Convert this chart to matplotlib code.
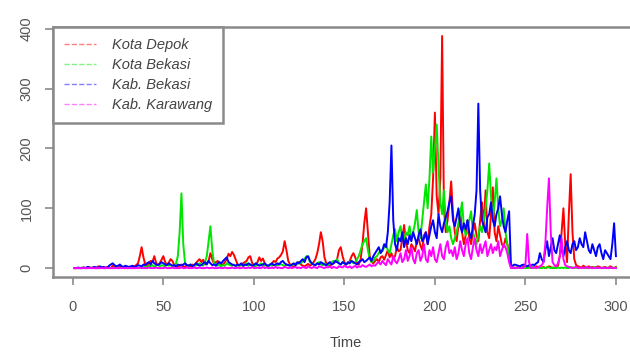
import matplotlib.pyplot as plt
import numpy as np

plt.rcParams['font.family'] = ['Liberation Sans', 'DejaVu Sans']

time = np.arange(1, 301)

kota_depok = [
    0, 0, 0, 0, 0, 1, 0, 0, 2, 0, 1, 0, 0, 3, 0, 1, 0, 0, 2, 1, 0, 4, 2, 1, 0, 3, 1, 0, 2, 0,
    1, 0, 2, 3, 5, 8, 20, 35, 18, 6, 4, 8, 12, 10, 20, 9, 5, 8, 14, 20, 10, 6, 9, 15, 12, 5, 3, 2, 4, 6,
    3, 2, 5, 4, 3, 6, 4, 8, 12, 15, 10, 14, 6, 8, 12, 25, 15, 7, 10, 12, 8, 5, 6, 10, 15, 24, 20, 27, 22, 14,
    6, 4, 5, 8, 10, 12, 18, 20, 9, 5, 4, 10, 18, 12, 16, 8, 4, 3, 6, 8, 12, 10, 16, 18, 22, 28, 45, 30, 12, 6,
    4, 3, 5, 8, 10, 6, 4, 3, 5, 7, 4, 6, 10, 15, 25, 40, 60, 45, 18, 8, 5, 4, 6, 8, 10, 15, 30, 35, 20, 10,
    6, 8, 12, 20, 25, 18, 8, 6, 15, 40, 75, 100, 60, 20, 10, 8, 12, 15, 10, 18, 20, 14, 22, 30, 18, 25, 15, 20, 35, 28,
    30, 50, 72, 45, 30, 25, 40, 35, 28, 45, 50, 38, 30, 55, 60, 40, 70, 90, 150, 260, 120, 90, 150, 388, 100, 60, 80, 110, 145, 90,
    60, 45, 70, 95, 60, 40, 55, 80, 50, 40, 60, 75, 55, 45, 80, 110, 70, 130, 60, 50, 90, 135, 60, 45, 70, 55, 40, 35, 50, 40,
    30, 2, 0, 1, 0, 2, 1, 0, 3, 1, 0, 2, 1, 0, 1, 3, 2, 0, 1, 2, 0, 1, 3, 2, 0, 1, 2, 4, 20, 60,
    100, 40, 10, 90, 157, 60, 15, 5, 3, 2, 1, 4, 2, 0, 3, 1, 2, 0, 1, 3, 2, 0, 1, 2, 0, 1, 3, 1, 0, 2,
]

kota_bekasi = [
    0, 0, 0, 0, 1, 0, 0, 0, 1, 0, 0, 1, 0, 0, 0, 1, 0, 0, 0, 1, 0, 0, 1, 0, 0, 0, 1, 0, 0, 0,
    0, 1, 0, 0, 2, 1, 0, 2, 3, 1, 2, 4, 3, 5, 2, 4, 6, 3, 5, 4, 3, 6, 4, 5, 3, 4, 8, 20, 60, 125,
    40, 8, 5, 4, 6, 3, 5, 4, 6, 8, 5, 4, 10, 20, 45, 70, 30, 8, 5, 4, 6, 3, 5, 4, 8, 6, 5, 4, 6, 3,
    5, 4, 6, 3, 5, 8, 4, 6, 5, 3, 4, 6, 5, 8, 6, 4, 5, 3, 6, 4, 5, 6, 4, 8, 6, 5, 3, 6, 5, 4,
    6, 5, 8, 6, 10, 8, 12, 15, 20, 18, 10, 8, 6, 5, 8, 10, 6, 5, 8, 6, 5, 8, 10, 12, 10, 15, 8, 6, 10, 8,
    6, 8, 10, 12, 8, 10, 15, 20, 30, 40, 45, 50, 30, 15, 10, 12, 18, 20, 25, 30, 28, 35, 40, 30, 25, 40, 55, 65, 45, 60,
    70, 50, 45, 60, 55, 70, 50, 60, 75, 97, 60, 50, 80, 110, 140, 100, 150, 220, 160, 200, 240, 170, 110, 90, 130, 80, 60, 70, 50, 40,
    50, 60, 75, 90, 110, 70, 55, 60, 80, 95, 60, 50, 40, 55, 70, 60, 80, 100, 130, 175, 120, 80, 110, 150, 100, 70, 80, 100, 60, 40,
    20, 2, 1, 0, 1, 0, 2, 1, 0, 1, 0, 1, 0, 2, 1, 0, 1, 0, 0, 1, 0, 2, 1, 0, 1, 0, 0, 1, 0, 1,
    0, 1, 0, 0, 2, 1, 0, 1, 0, 0, 1, 0, 1, 0, 0, 1, 0, 2, 0, 1, 0, 0, 1, 0, 1, 0, 0, 1, 0, 1,
]

kab_bekasi = [
    0, 0, 1, 0, 0, 1, 0, 2, 1, 0, 1, 2, 1, 0, 3, 1, 2, 1, 0, 4, 6, 8, 5, 3, 4, 6, 3, 2, 4, 3,
    2, 3, 4, 2, 3, 5, 4, 3, 6, 5, 8, 10, 6, 12, 8, 6, 5, 7, 10, 8, 6, 5, 8, 6, 4, 5, 3, 6, 5, 4,
    6, 8, 5, 4, 6, 3, 5, 8, 6, 4, 5, 8, 10, 6, 12, 8, 5, 6, 4, 8, 10, 8, 12, 15, 18, 10, 8, 6, 5, 4,
    6, 5, 8, 4, 6, 5, 8, 6, 4, 5, 8, 6, 4, 5, 6, 8, 5, 4, 6, 8, 5, 6, 8, 6, 10, 12, 8, 6, 5, 4,
    6, 8, 5, 10, 8, 12, 15, 10, 18, 20, 12, 8, 6, 5, 8, 6, 10, 8, 6, 5, 8, 10, 6, 8, 12, 10, 8, 6, 10, 8,
    6, 10, 8, 12, 10, 8, 6, 10, 12, 15, 10, 12, 15, 18, 12, 20, 25, 30, 35, 25, 30, 40, 35, 60, 110, 205, 80, 40, 30, 50,
    45, 60, 35, 50, 40, 55, 45, 60, 50, 40, 55, 65, 45, 50, 60, 40, 55, 70, 80, 60, 50, 90, 70, 60, 75, 85, 95, 110, 120, 80,
    70, 85, 100, 70, 60, 75, 65, 80, 60, 50, 70, 90, 130, 275, 130, 80, 70, 60, 85, 90, 110, 80, 70, 90, 100, 120, 90, 70, 60, 80,
    95, 5, 4, 6, 5, 4, 3, 5, 6, 4, 3, 5, 4, 6, 5, 8, 10, 25, 15, 10, 30, 45, 20, 35, 50, 30, 25, 40, 55, 30,
    20, 35, 45, 30, 25, 40, 45, 30, 35, 50, 40, 35, 60, 45, 30, 25, 40, 30, 20, 35, 40, 25, 15, 30, 25, 20, 15, 40, 75, 20,
]

kab_karawang = [
    0, 0, 0, 0, 0, 0, 0, 0, 0, 0, 0, 0, 0, 0, 0, 0, 0, 0, 0, 0, 0, 0, 0, 0, 0, 0, 0, 0, 0, 0,
    0, 0, 0, 0, 0, 0, 1, 0, 0, 0, 0, 1, 0, 0, 0, 1, 0, 0, 0, 0, 1, 0, 0, 0, 1, 0, 0, 0, 0, 1,
    0, 0, 1, 0, 0, 0, 1, 0, 0, 1, 0, 0, 0, 1, 0, 0, 1, 0, 0, 0, 1, 0, 0, 1, 0, 0, 0, 1, 0, 0,
    1, 0, 0, 1, 0, 0, 1, 0, 2, 0, 0, 1, 0, 0, 2, 0, 1, 0, 0, 1, 0, 2, 0, 1, 0, 0, 2, 1, 0, 1,
    0, 1, 2, 0, 1, 0, 2, 1, 0, 3, 1, 0, 2, 1, 0, 3, 2, 1, 0, 2, 1, 3, 0, 2, 1, 0, 3, 2, 1, 4,
    2, 1, 3, 0, 2, 4, 1, 3, 2, 5, 3, 2, 4, 6, 3, 5, 4, 8, 10, 6, 12, 8, 5, 15, 10, 6, 20, 12, 8, 15,
    25, 10, 15, 30, 12, 20, 35, 15, 8, 25, 30, 12, 20, 40, 15, 10, 30, 20, 35, 15, 10, 25, 40, 20, 15, 35, 45, 25, 30, 20,
    35, 15, 25, 45, 30, 20, 40, 50, 25, 15, 35, 50, 30, 20, 40, 25, 35, 45, 20, 30, 40, 25, 35, 30, 45, 20, 30, 40, 35, 25,
    10, 0, 1, 0, 0, 1, 0, 0, 1, 5, 57, 10, 1, 0, 2, 0, 1, 3, 5, 10, 40, 100, 150, 60, 10, 5, 3, 8, 20, 50,
    15, 5, 3, 2, 1, 0, 1, 2, 0, 1, 0, 1, 0, 2, 0, 1, 0, 0, 1, 0, 1, 0, 0, 1, 0, 0, 1, 0, 0, 0,
]

series_names = ['Kota Depok', 'Kota Bekasi', 'Kab. Bekasi', 'Kab. Karawang']
series_colors = ['#ff0000', '#00e600', '#0000ff', '#ff00ff']
series_values = [kota_depok, kota_bekasi, kab_bekasi, kab_karawang]

fig = plt.figure(figsize=(6.3, 3.52), dpi=100)
ax = fig.add_axes([0.084, 0.212, 0.931, 0.712])

for vals, col in zip(series_values, series_colors):
    ax.plot(time, vals, color=col, linewidth=1.4)

ax.set_xlim(-11, 313)
ax.set_ylim(-15.5, 403.5)
ax.set_xticks([0, 50, 100, 150, 200, 250, 300])
ax.set_yticks([0, 100, 200, 300, 400])

grey = '#8a8a8a'
for s in ax.spines.values():
    s.set_color(grey)
    s.set_linewidth(1.8)
ax.tick_params(direction='out', length=6, width=1.2, color=grey,
               labelcolor='#555555', labelsize=10.5)
ax.tick_params(axis='x', pad=10)
ax.tick_params(axis='y', pad=8)
for lab in ax.get_yticklabels():
    lab.set_rotation(90)
    lab.set_verticalalignment('center')

ax.set_xlabel('Time', color='#444444', fontsize=10.5, labelpad=16)

# legend with dashed line samples, as in R legend(lty=2)
handles = [plt.Line2D([], [], color=c, linestyle='--', linewidth=1.0, alpha=0.5)
           for c in series_colors]
leg = ax.legend(handles, series_names, loc='upper left', bbox_to_anchor=(0, 1),
                borderaxespad=0, fancybox=False, framealpha=1, edgecolor=grey,
                prop={'style': 'italic', 'size': 10.5}, handlelength=2.2,
                labelspacing=0.42, borderpad=0.75, handletextpad=1.1)
leg.get_frame().set_linewidth(1.8)
for t in leg.get_texts():
    t.set_color('#444444')

fig.savefig('out.png', dpi=100)
